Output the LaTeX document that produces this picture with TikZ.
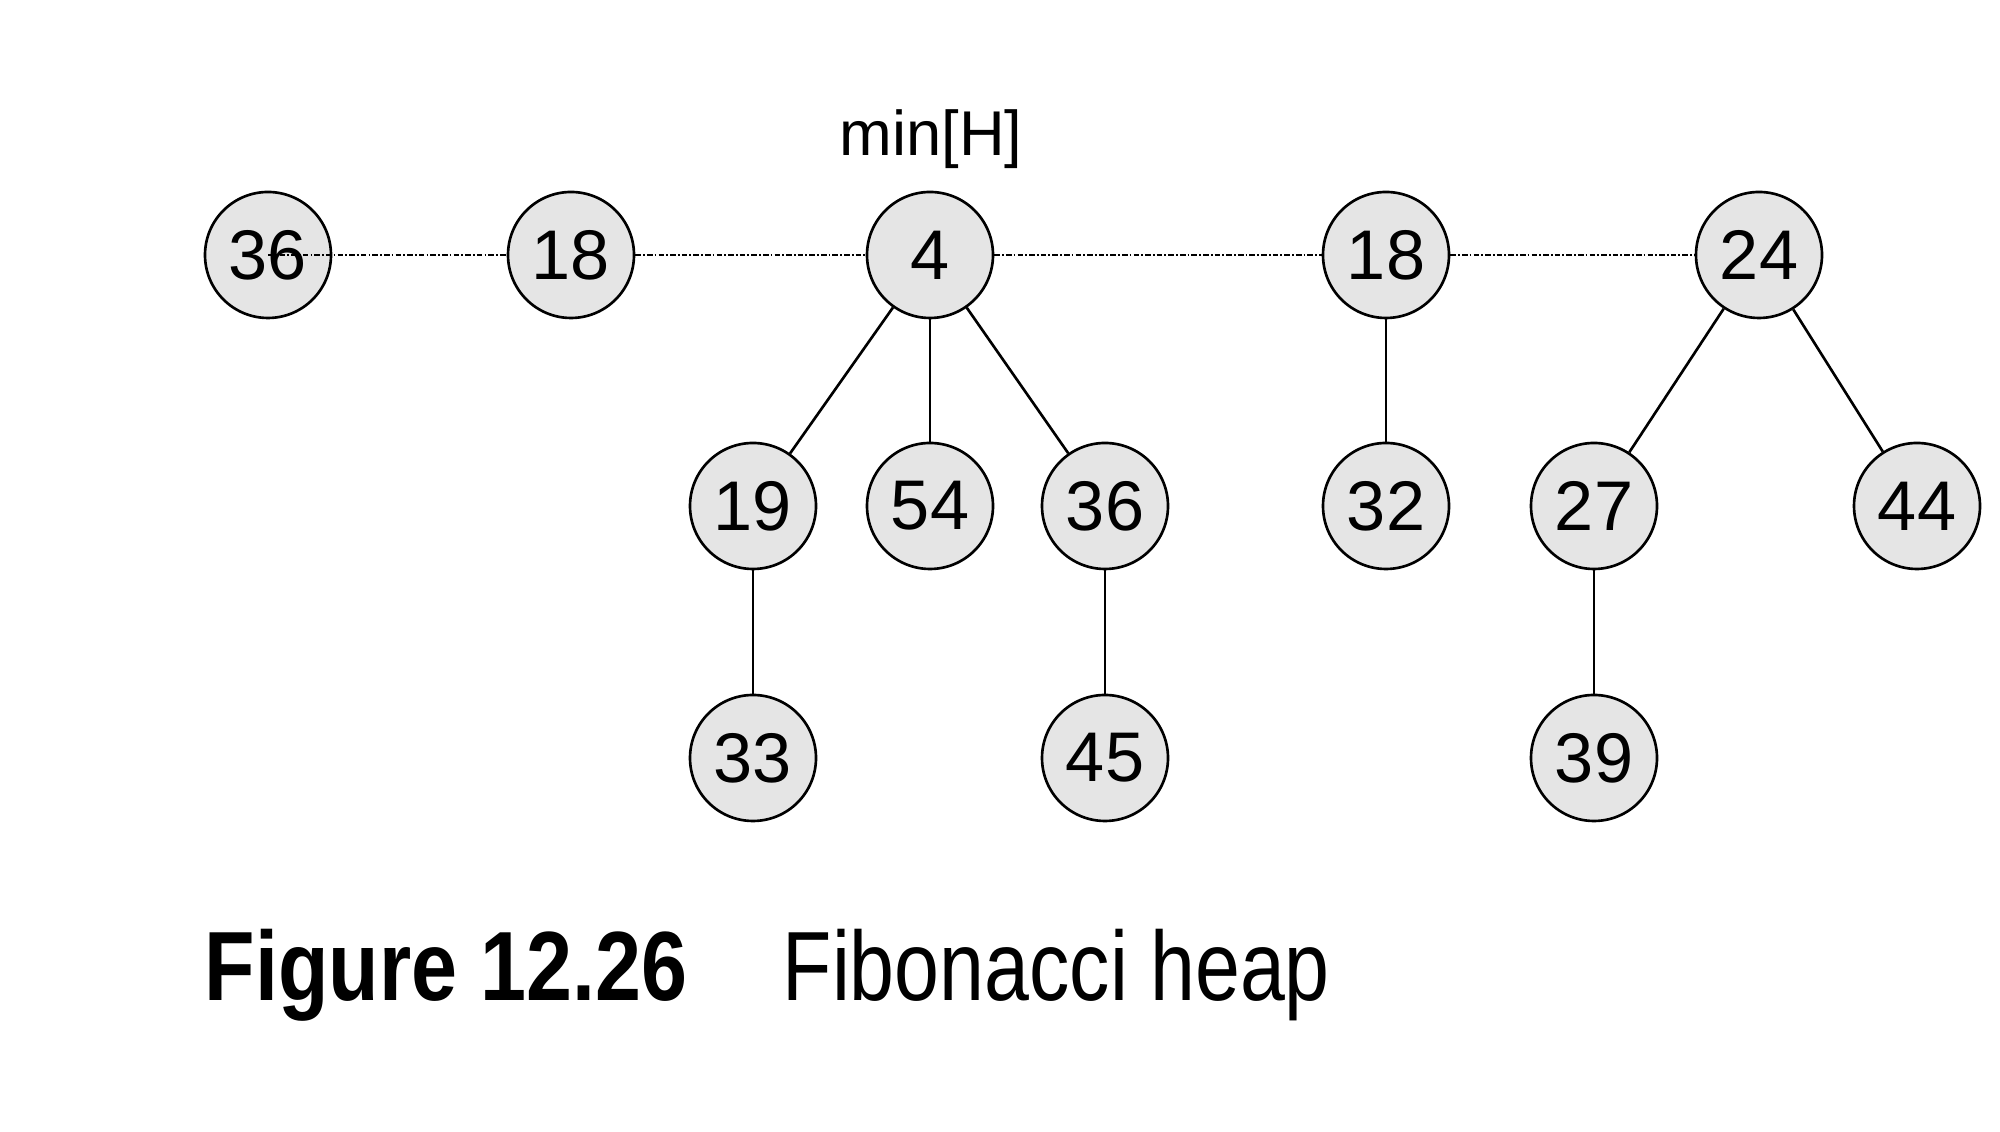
\documentclass[tikz,border=0pt]{standalone}
\usepackage{fontspec}
\setmainfont{Liberation Sans}
\newfontfamily\captionfont[FakeStretch=0.82]{Liberation Sans}
\newfontfamily\captionboldfont[FakeStretch=0.84]{Liberation Sans Bold}
\begin{document}
\begin{tikzpicture}[
    heapnode/.style={circle, draw, line width=0.75pt, fill=black!10, minimum size=1.26cm, inner sep=0pt, font=\fontsize{20}{22}\selectfont},
    rootlink/.style={line width=0.55pt, dash pattern=on 1.6pt off 0.6pt on 0.5pt off 0.6pt},
    childlink/.style={line width=0.75pt}]
        \useasboundingbox (0,0) rectangle (20,11.32);
        % root list
        \node[heapnode] (r36) at (2.68,8.77) {36};
        \node[heapnode] (r18) at (5.71,8.77) {18};
        \node[heapnode] (r4) at (9.30,8.77) {4};
        \node[heapnode] (s18) at (13.86,8.77) {18};
        \node[heapnode] (r24) at (17.59,8.77) {24};
        \node[font=\fontsize{18}{20}\selectfont] (minh) at (9.31,9.93) {min[H]};
        % children
        \node[heapnode] (c19) at (7.53,6.26) {19};
        \node[heapnode] (c54) at (9.30,6.26) {54};
        \node[heapnode] (c36) at (11.05,6.26) {36};
        \node[heapnode] (c32) at (13.86,6.26) {32};
        \node[heapnode] (c27) at (15.94,6.26) {27};
        \node[heapnode] (c44) at (19.17,6.26) {44};
        \node[heapnode] (g33) at (7.53,3.74) {33};
        \node[heapnode] (g45) at (11.05,3.74) {45};
        \node[heapnode] (g39) at (15.94,3.74) {39};
        \draw[rootlink] (r36.center) -- (r18);
        \draw[rootlink] (r18) -- (r4);
        \draw[rootlink] (r4) -- (s18);
        \draw[rootlink] (s18) -- (r24);
        \draw[childlink] (r4) -- (c19);
        \draw[childlink] (r4) -- (c54);
        \draw[childlink] (r4) -- (c36);
        \draw[childlink] (s18) -- (c32);
        \draw[childlink] (r24) -- (c27);
        \draw[childlink] (r24) -- (c44);
        \draw[childlink] (c19) -- (g33);
        \draw[childlink] (c36) -- (g45);
        \draw[childlink] (c27) -- (g39);
        % caption
        \node[anchor=base west, inner sep=0pt, font=\captionboldfont\fontsize{28}{30}\selectfont] (figno) at (2.04,1.31) {Figure 12.26};
        \node[anchor=base west, inner sep=0pt, font=\captionfont\fontsize{28}{30}\selectfont] (figtitle) at (7.82,1.31) {Fibonacci heap};
    \end{tikzpicture}
\end{document}
